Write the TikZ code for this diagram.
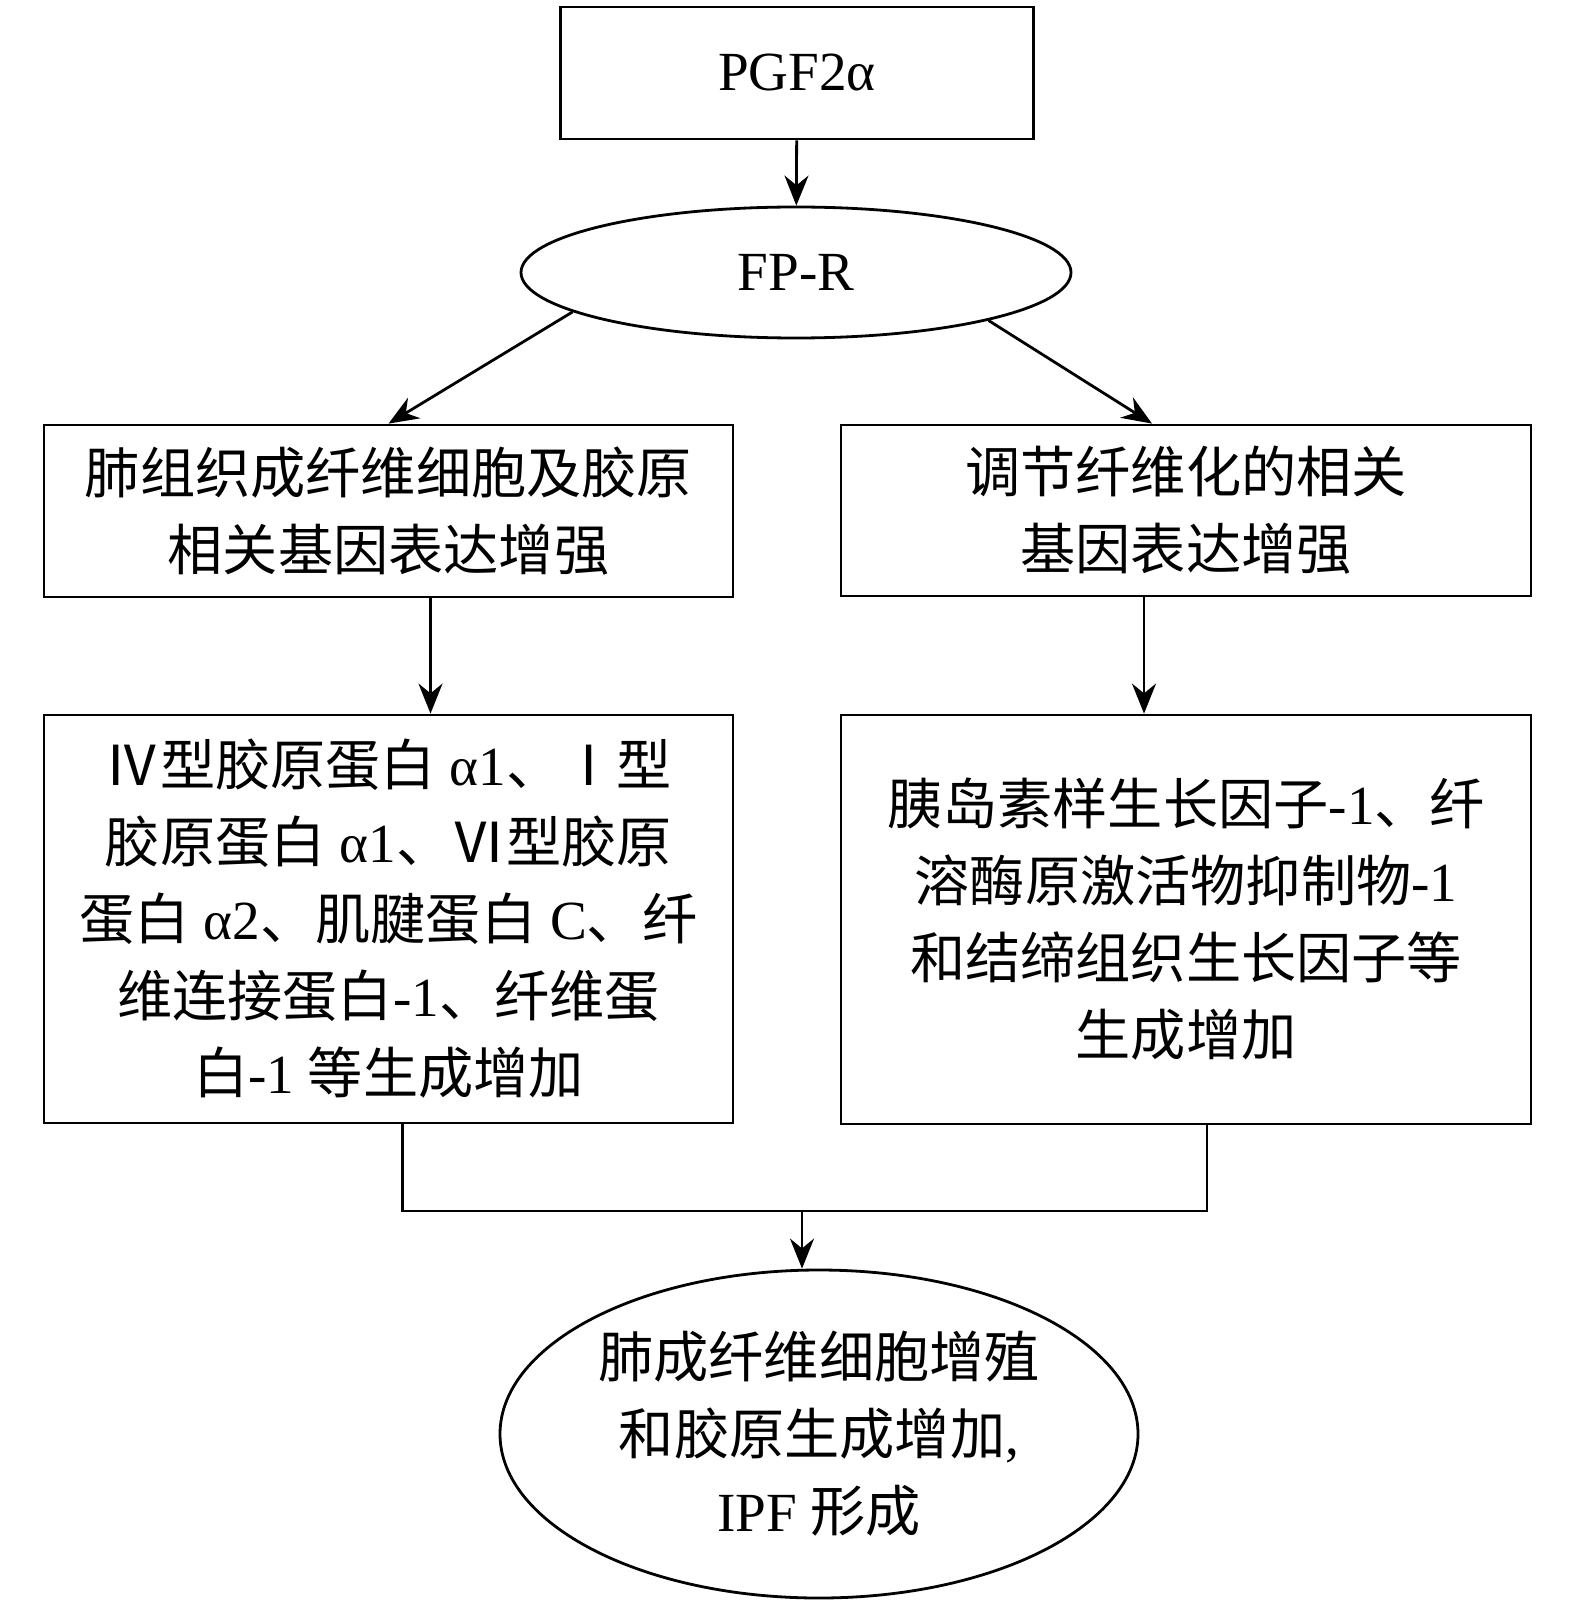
\documentclass[tikz,border=0pt]{standalone}
\usepackage{fontspec}
\setmainfont{Liberation Serif}
\newfontfamily\cjk{Noto Sans CJK SC}
\usetikzlibrary{arrows.meta, shapes.geometric}
\newcommand{\zh}[1]{{\cjk #1}}

\begin{document}
\begin{tikzpicture}[
		> = {Stealth[length=15pt, width=12pt]}, % arrow head style
		x = 0.5pt, y = -0.5pt, % one unit = one pixel
		line width = 1.4pt % line style
		]
		
		\tikzstyle{box}=[
		draw = black,
		rectangle,
		align = center,
		inner sep = 0pt,
		font = \fontsize{27.6pt}{38.5pt}\selectfont
		]
		\tikzstyle{oval}=[box, ellipse]
		
		\useasboundingbox (0,0) rectangle (1575,1604);
		
		\node[box, minimum width=236.5pt, minimum height=66pt] (pgf) at (797,73) {PGF2α};
		\node[oval, minimum width=275pt, minimum height=65.5pt] (fpr) at (796,272.5) {FP-R};
		\node[box, minimum width=344.5pt, minimum height=86pt] (l1) at (388.5,511)
		{\zh{肺组织成纤维细胞及胶原}\\\zh{相关基因表达增强}};
		\node[box, minimum width=345pt, minimum height=85.5pt] (r1) at (1186,510.5)
		{\zh{调节纤维化的相关}\\\zh{基因表达增强}};
		\node[box, minimum width=344.5pt, minimum height=204pt] (l2) at (388.5,919)
		{\zh{Ⅳ型胶原蛋白} α1\zh{、Ⅰ型}\\
		 \zh{胶原蛋白} α1\zh{、Ⅵ型胶原}\\
		 \zh{蛋白} α2\zh{、肌腱蛋白} C\zh{、纤}\\
		 \zh{维连接蛋白}-1\zh{、纤维蛋}\\
		 \zh{白}-1 \zh{等生成增加}};
		\node[box, minimum width=345pt, minimum height=204.5pt] (r2) at (1186,919.5)
		{\zh{胰岛素样生长因子}-1\zh{、纤}\\
		 \zh{溶酶原激活物抑制物}-1\\
		 \zh{和结缔组织生长因子等}\\
		 \zh{生成增加}};
		\node[oval, minimum width=319pt, minimum height=164pt] (ipf) at (819,1434)
		{\zh{肺成纤维细胞增殖}\\\zh{和胶原生成增加},\\IPF \zh{形成}};
		
		\draw[->] (pgf) -- (fpr);
		\draw[->] (fpr.190) -- (l1.north);
		\draw[->] (fpr.346) -- ([xshift=-17pt]r1.north);
		\draw[->] ([xshift=21pt]l1.south) -- ([xshift=21pt]l2.north);
		\draw[->] ([xshift=-21pt]r1.south) -- ([xshift=-21pt]r2.north);
		
		\coordinate (join) at (802,1211);
		\draw ([xshift=7pt]l2.south) |- (join) -| ([xshift=10.5pt]r2.south);
		\draw[->] (join) -- (join |- ipf.north);
		\end{tikzpicture}
\end{document}
